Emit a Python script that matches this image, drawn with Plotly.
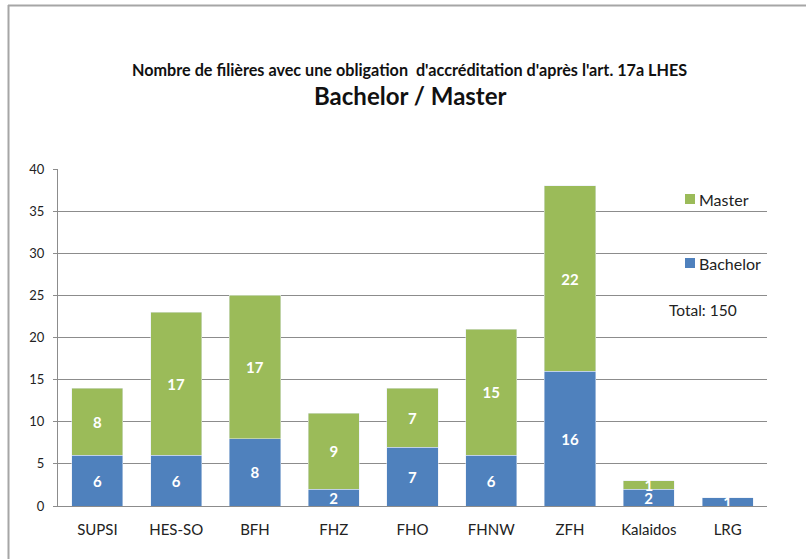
import plotly.graph_objects as go

categories = ["SUPSI", "HES-SO", "BFH", "FHZ", "FHO", "FHNW", "ZFH", "Kalaidos", "LRG"]
bachelor = [6, 6, 8, 2, 7, 6, 16, 2, 1]
master = [8, 17, 17, 9, 7, 15, 22, 1, None]
y_ticks = [0, 5, 10, 15, 20, 25, 30, 35, 40]
title_line1 = "Nombre de filières avec une obligation  d'accréditation d'après l'art. 17a LHES"
title_line2 = "Bachelor / Master"
total_text = "Total: 150"

FONT = "Lato, 'Open Sans', sans-serif"
BLUE = "#4F81BD"
GREEN = "#9BBB59"

fig = go.Figure()
fig.add_trace(go.Bar(
    x=categories, y=bachelor, name="Bachelor", marker_color=BLUE,
    text=bachelor, textposition="inside", insidetextanchor="middle",
    constraintext="none", textangle=0,
    textfont=dict(color="white", size=15, family=FONT, weight="bold"),
    showlegend=False,
))
fig.add_trace(go.Bar(
    x=categories, y=master, name="Master", marker_color=GREEN,
    text=[("" if v is None else v) for v in master], textposition="inside",
    insidetextanchor="middle", constraintext="none", textangle=0,
    textfont=dict(color="white", size=15, family=FONT, weight="bold"),
    showlegend=False,
))

L, R, T, B = 58, 39, 169, 53
W, H = 806, 559
pw = W - L - R
ph = H - T - B

def px_x(x):
    return (x - L) / pw

def px_y(y):
    return 1 - (y - T) / ph

legend_items = [("Master", GREEN, 199), ("Bachelor", BLUE, 263)]
shapes = [
    dict(type="line", xref="paper", yref="paper",
         x0=px_x(8), x1=px_x(820), y0=px_y(5.5), y1=px_y(5.5),
         line=dict(color="#a6a6a6", width=2)),
    dict(type="line", xref="paper", yref="paper",
         x0=px_x(8.5), x1=px_x(8.5), y0=px_y(5), y1=px_y(575),
         line=dict(color="#a6a6a6", width=2)),
]
annotations = [
    dict(text="<b>" + title_line1 + "</b>", xref="paper", yref="paper",
         x=px_x(409), y=px_y(70), xanchor="center", yanchor="middle",
         showarrow=False, font=dict(size=16.2, family=FONT, color="#111")),
    dict(text="<b>" + title_line2 + "</b>", xref="paper", yref="paper",
         x=px_x(410), y=px_y(96), xanchor="center", yanchor="middle",
         showarrow=False, font=dict(size=24, family=FONT, color="#111")),
    dict(text=total_text, xref="paper", yref="paper",
         x=px_x(667), y=px_y(310), xanchor="left", yanchor="middle",
         showarrow=False, font=dict(size=15.5, family=FONT, color="#222")),
]
for name, col, yc in legend_items:
    shapes.append(dict(type="rect", xref="paper", yref="paper",
                       x0=px_x(685), x1=px_x(695), y0=px_y(yc - 5), y1=px_y(yc + 5),
                       fillcolor=col, line=dict(width=0)))
    annotations.append(dict(text=name, xref="paper", yref="paper",
                            x=px_x(697), y=px_y(yc), xanchor="left", yanchor="middle",
                            showarrow=False, font=dict(size=16, family=FONT, color="#222")))

fig.update_layout(
    width=W, height=H,
    margin=dict(l=L, r=R, t=T, b=B),
    barmode="stack",
    bargap=0.35,
    plot_bgcolor="white", paper_bgcolor="white",
    font=dict(family=FONT, size=13, color="#222"),
    showlegend=False,
    yaxis=dict(
        range=[0, 40], tickvals=y_ticks, showgrid=True, gridcolor="#8c8c8c",
        gridwidth=1, showline=True, linecolor="#8c8c8c", linewidth=1,
        ticks="outside", ticklen=4, tickcolor="#8c8c8c", ticklabelstandoff=6,
        tickfont=dict(size=13, family=FONT, color="#222"), zeroline=False,
    ),
    xaxis=dict(
        showline=True, linecolor="#8c8c8c", linewidth=1, ticklabelstandoff=10,
        tickfont=dict(size=15, family=FONT, color="#222"),
    ),
    annotations=annotations,
    shapes=shapes,
)

fig.write_html("out.html", config={"displayModeBar": False},
               post_script="document.body.style.margin='0';document.body.style.overflow='hidden';")
